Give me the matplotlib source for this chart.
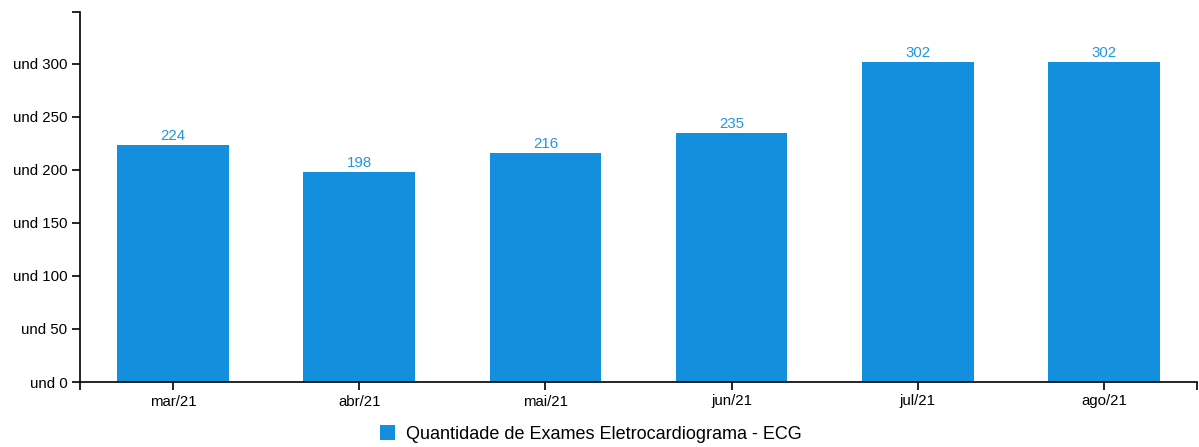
import matplotlib
matplotlib.use("Agg")
import matplotlib.pyplot as plt
from matplotlib.patches import Patch

months = ["mar/21", "abr/21", "mai/21", "jun/21", "jul/21", "ago/21"]
exames = [224, 198, 216, 235, 302, 302]
y_ticks = [0, 50, 100, 150, 200, 250, 300]
y_tick_labels = [f"und {v}" for v in y_ticks]
series_name = "Quantidade de Exames Eletrocardiograma - ECG"

bar_color = "#138fde"
label_color = "#2396e0"

plt.rcParams["font.family"] = ["Liberation Sans", "DejaVu Sans"]

W, H, DPI = 1199, 447, 100
fig = plt.figure(figsize=(W / DPI, H / DPI), dpi=DPI)
ax = fig.add_axes([80 / W, 1 - 382 / H, (1197 - 80) / W, (382 - 12) / H])

x = list(range(len(months)))
ax.bar(x, exames, width=0.6, color=bar_color, zorder=2)
for xi, v in zip(x, exames):
    ax.text(xi, v + 1.5, str(v), ha="center", va="bottom",
            color=label_color, fontsize=10.8)

ax.set_xlim(-0.5, len(months) - 0.5)
ax.set_ylim(0, 349)
ax.set_xticks(x)
ax.set_xticklabels(months, fontsize=10.8)
ax.set_yticks(y_ticks)
ax.set_yticklabels(y_tick_labels, fontsize=10.8)

# outer ticks at the ends of each axis line
ax.set_xticks([-0.5, len(months) - 0.5], minor=True)
ax.set_yticks([349], minor=True)
ax.tick_params(which="both", direction="out", length=6, width=1.2,
               color="black", labelcolor="black", pad=3)

for side in ("top", "right"):
    ax.spines[side].set_visible(False)
for side in ("left", "bottom"):
    ax.spines[side].set_linewidth(1.2)

handle = Patch(facecolor=bar_color, edgecolor="none")
fig.legend([handle], [series_name], loc="center", bbox_to_anchor=(591 / W, 1 - 434 / H),
           frameon=False, fontsize=13, handlelength=0.85, handleheight=0.85,
           handletextpad=0.6)

fig.savefig("out.png", dpi=DPI)
